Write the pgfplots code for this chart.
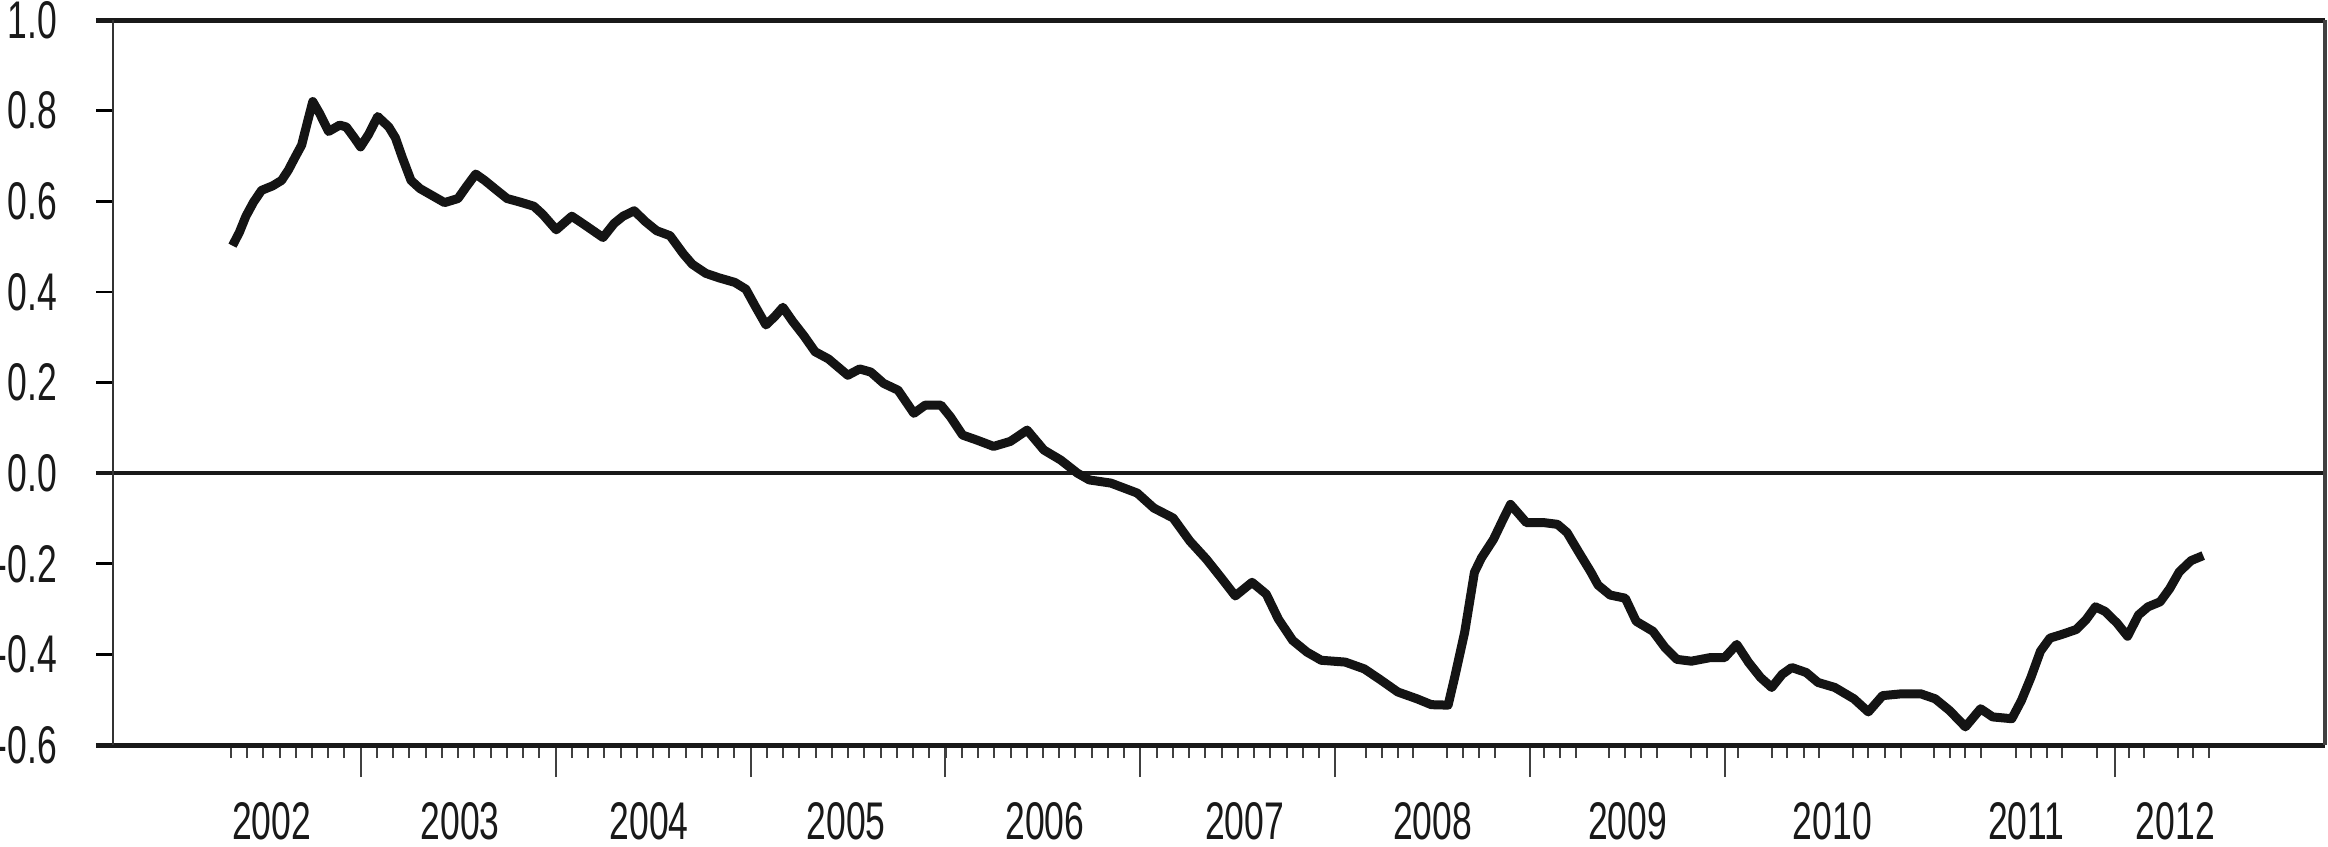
\documentclass[border=0pt]{standalone}
\usepackage{fontspec}
\setmainfont{Liberation Sans}[FakeStretch=0.67]
\usepackage{pgfplots}
\pgfplotsset{compat=1.18}

\pgfplotstableread{
year value
2002.342 0.502
2002.377 0.531
2002.411 0.567
2002.450 0.598
2002.491 0.624
2002.548 0.634
2002.594 0.646
2002.629 0.669
2002.663 0.697
2002.697 0.724
2002.725 0.772
2002.754 0.820
2002.789 0.794
2002.835 0.754
2002.892 0.768
2002.926 0.764
2002.967 0.740
2002.999 0.720
2003.041 0.748
2003.087 0.787
2003.144 0.764
2003.178 0.740
2003.213 0.697
2003.258 0.646
2003.304 0.628
2003.361 0.614
2003.430 0.597
2003.499 0.606
2003.545 0.634
2003.590 0.660
2003.636 0.646
2003.693 0.626
2003.751 0.606
2003.819 0.598
2003.888 0.589
2003.934 0.571
2004.003 0.537
2004.083 0.567
2004.152 0.547
2004.243 0.520
2004.300 0.551
2004.346 0.567
2004.403 0.579
2004.461 0.555
2004.518 0.535
2004.587 0.524
2004.655 0.484
2004.701 0.461
2004.770 0.441
2004.838 0.431
2004.919 0.421
2004.976 0.406
2005.022 0.370
2005.079 0.327
2005.125 0.346
2005.166 0.366
2005.216 0.335
2005.274 0.303
2005.331 0.268
2005.400 0.252
2005.499 0.216
2005.560 0.230
2005.617 0.223
2005.683 0.198
2005.757 0.183
2005.838 0.132
2005.896 0.150
2005.977 0.150
2006.026 0.124
2006.088 0.084
2006.161 0.073
2006.247 0.059
2006.333 0.070
2006.419 0.095
2006.505 0.051
2006.591 0.029
2006.677 0.000
2006.738 -0.015
2006.849 -0.022
2006.984 -0.044
2007.069 -0.077
2007.168 -0.099
2007.254 -0.150
2007.339 -0.190
2007.413 -0.230
2007.487 -0.271
2007.573 -0.241
2007.646 -0.267
2007.708 -0.322
2007.781 -0.369
2007.855 -0.395
2007.928 -0.413
2008.051 -0.417
2008.149 -0.432
2008.235 -0.457
2008.321 -0.483
2008.419 -0.498
2008.493 -0.511
2008.579 -0.512
2008.615 -0.446
2008.664 -0.351
2008.714 -0.219
2008.750 -0.187
2008.812 -0.146
2008.861 -0.102
2008.899 -0.069
2008.980 -0.109
2009.066 -0.109
2009.140 -0.113
2009.189 -0.131
2009.250 -0.175
2009.311 -0.218
2009.348 -0.247
2009.410 -0.269
2009.488 -0.276
2009.544 -0.327
2009.630 -0.349
2009.692 -0.385
2009.753 -0.411
2009.827 -0.415
2009.925 -0.407
2009.998 -0.407
2010.060 -0.378
2010.121 -0.418
2010.182 -0.451
2010.239 -0.473
2010.293 -0.444
2010.342 -0.429
2010.416 -0.440
2010.477 -0.462
2010.563 -0.473
2010.661 -0.498
2010.735 -0.527
2010.808 -0.491
2010.906 -0.487
2011.004 -0.487
2011.078 -0.498
2011.152 -0.524
2011.233 -0.560
2011.311 -0.520
2011.373 -0.538
2011.471 -0.542
2011.520 -0.502
2011.569 -0.451
2011.618 -0.393
2011.667 -0.364
2011.728 -0.356
2011.802 -0.345
2011.851 -0.324
2011.900 -0.295
2011.949 -0.305
2012.011 -0.331
2012.065 -0.360
2012.121 -0.313
2012.170 -0.295
2012.232 -0.284
2012.281 -0.255
2012.330 -0.218
2012.391 -0.193
2012.453 -0.182
}\series

\begin{document}
\begin{tikzpicture}
\path[use as bounding box] (-22.6pt,-20.2pt) rectangle (443pt,149pt);
\begin{axis}[
  at={(0,0)}, anchor=south west,
  scale only axis,
  width=442.4pt, height=145pt,
  xmin=2001.729, xmax=2013.078,
  ymin=-0.6, ymax=1.0,
  clip=false,
  axis line style={draw=none},
  tick align=outside,
  xtick pos=bottom, ytick pos=left,
  ytick={-0.6,-0.4,-0.2,0,0.2,0.4,0.6,0.8,1},
  yticklabels={-0.6,-0.4,-0.2,0.0,0.2,0.4,0.6,0.8,1.0},
  ytick style={line width=0.55pt, black, /pgfplots/major tick length=3.4pt},
  yticklabel style={anchor=east, xshift=-1.3pt},
  xtick={2003,2004,2005,2006,2007,2008,2009,2010,2012},
  xticklabels={},
  minor xtick={2002.33333,2002.41667,...,2007.95,
    2008.156,2008.24,2008.32,2008.40,2008.575,2008.655,2008.739,2008.82,
    2009.071,2009.152,2009.233,2009.405,2009.488,2009.569,2009.65,2009.827,2009.905,
    2010.065,2010.239,2010.317,2010.403,2010.484,2010.656,2010.735,2010.82,2010.901,
    2011.073,2011.152,2011.233,2011.311,2011.49,2011.569,2011.65,2011.728,2011.907,
    2012.072,2012.15,2012.325,2012.403,2012.482},
  xtick style={line width=0.4pt, black!75},
  major tick length=6.4pt,
  minor tick length=2.6pt,
  extra x ticks={2002.543,2003.51,2004.48,2005.49,2006.51,2007.535,2008.50,2009.50,2010.55,2011.545,2012.31},
  extra x tick labels={2002,2003,2004,2005,2006,2007,2008,2009,2010,2011,2012},
  extra x tick style={major tick length=0pt,
    xticklabel style={anchor=north, yshift=-8pt}},
  tick label style={font=\fontsize{10.6}{12}\selectfont, text=black!90},
]
\draw[line width=0.8pt, black!90] ([xshift=-3.4pt]axis cs:2001.729,0) -- (axis cs:2013.078,0);
\addplot[line width=1.8pt, black!92, line join=round, mark=none] table[x=year, y=value] {\series};
\draw[line width=1pt, black!90] ([xshift=-3.4pt]rel axis cs:0,1) -- (rel axis cs:1,1);
\draw[line width=1pt, black!90] ([xshift=-3.4pt]rel axis cs:0,0) -- (rel axis cs:1,0);
\draw[line width=0.45pt, black!80] (rel axis cs:0,0) -- (rel axis cs:0,1);
\draw[line width=0.8pt, black!75] (rel axis cs:1,0) -- (rel axis cs:1,1);
\end{axis}
\end{tikzpicture}
\end{document}
